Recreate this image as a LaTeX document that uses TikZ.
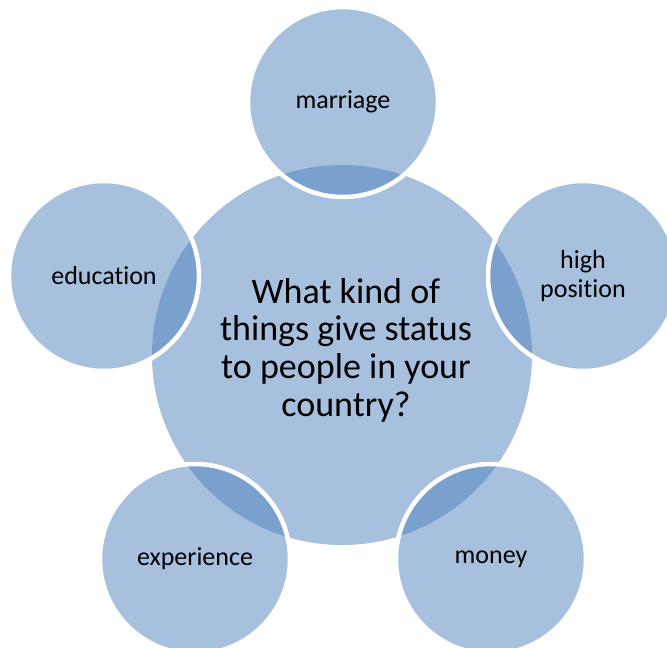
\documentclass[tikz,border=0pt]{standalone}
\usepackage{fontspec}
\setmainfont[Ligatures=NoCommon]{Carlito}
\definecolor{acc}{HTML}{4F81BD}
\begin{document}
\begin{tikzpicture}[x=1pt,y=-1pt,
  hub/.style={circle, inner sep=0pt, minimum size=380pt, fill=acc, fill opacity=0.5, draw=none},
  sat/.style={circle, inner sep=0pt, minimum size=190pt, fill=acc, fill opacity=0.5, draw=white, draw opacity=1, line width=4.5pt},
  lbl/.style={text=black, text opacity=1, align=center, font=\fontsize{26}{29}\selectfont},
  bigtxt/.style={text=black, align=center, font=\fontsize{36}{37.7}\selectfont}]
\useasboundingbox (0,0) rectangle (667,648);
\node[hub] (c) at (342,355) {};
\node[sat] (m) at (343,102) {};
\node[sat] (h) at (583,276) {};
\node[sat] (mo) at (491,559) {};
\node[sat] (ex) at (195,559) {};
\node[sat] (ed) at (104,276) {};
\node[bigtxt] (ct) at (346,350) {What kind of\\things give status\\to people in your\\country?};
\node[lbl] (tm) at (m) {marriage};
\node[lbl] (th) at (h) {high\\position};
\node[lbl] (tmo) at (mo) {money};
\node[lbl] (tex) at (ex) {experience};
\node[lbl] (ted) at (ed) {education};
\end{tikzpicture}
\end{document}
